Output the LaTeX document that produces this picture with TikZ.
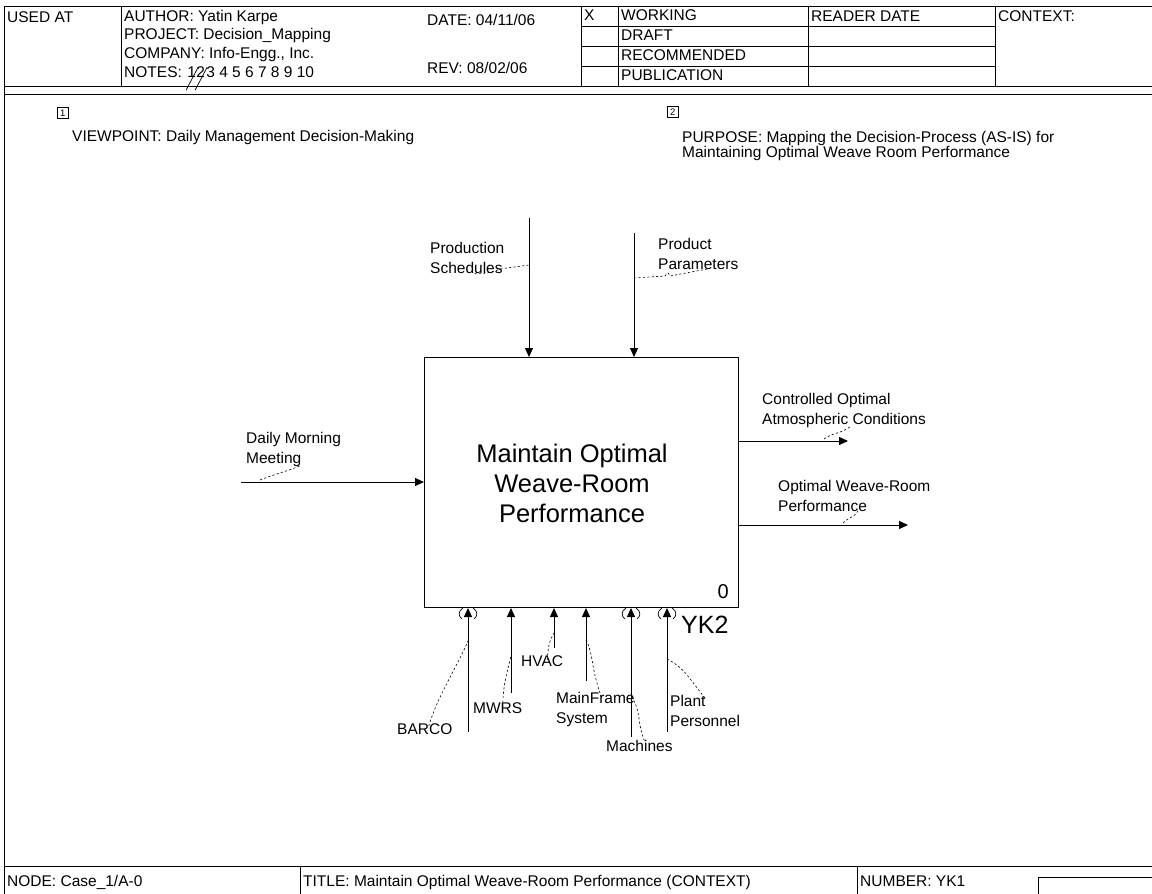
\documentclass[tikz,border=0pt]{standalone}
\usepackage{fontspec}
\setmainfont{Liberation Sans}
\usetikzlibrary{arrows.meta,positioning}

\tikzset{
  lbl/.style={font=\fontsize{15.5}{20}\selectfont, inner sep=0pt, anchor=north west, align=left},
  hdr/.style={font=\fontsize{15.5}{19}\selectfont, inner sep=0pt, anchor=base west},
  flow/.style={line width=1pt, -{Triangle[length=9pt,width=8pt]}},
  squig/.style={line width=0.6pt, dash pattern=on 2.2pt off 2.2pt},
  frame/.style={line width=0.9pt},
  numbox/.style={draw, line width=0.7pt, minimum size=11pt, inner sep=0pt, anchor=north west, font=\fontsize{9.5}{9.5}\selectfont},
}

\begin{document}
\begin{tikzpicture}[x=1pt,y=-1pt]
    \useasboundingbox (0,0) rectangle (1152,894);

    % Form frame
    \draw[frame] (1152,6.5) -- (4.5,6.5) -- (4.5,894);
    \draw[frame] (4.5,86) -- (1152,86);
    \draw[frame] (4.5,94) -- (1152,94);
    \draw[frame] (4.5,866) -- (1152,866);
    \foreach \x in {121.5,581,618,808,995} \draw[frame] (\x,6.5) -- (\x,86);
    \foreach \y in {26,46,66} \draw[frame] (581,\y) -- (995,\y);
    \draw[frame] (300,866) -- (300,894);
    \draw[frame] (857,866) -- (857,894);
    \draw[frame] (1152,877) -- (1038,877) -- (1038,894);

    % Header
    \node[hdr] (usedat) at (7,23) {USED AT};
    \node[hdr] (author) at (124,21) {AUTHOR: Yatin Karpe};
    \node[hdr] (project) at (124,39.5) {PROJECT: Decision\_Mapping};
    \node[hdr] (company) at (124,58) {COMPANY: Info-Engg., Inc.};
    \node[hdr] (notes) at (124,77) {NOTES:};
    \node[hdr] (note1) at ([xshift=5pt]notes.base east) {1};
    \node[hdr] (note2) at (note1.base east) {2};
    \node[hdr] (note3) at ([xshift=1pt]note2.base east) {3 4 5 6 7 8 9 10};
    \draw[line width=0.7pt] (note1.south west) ++(-1,13) -- ++(12,-23);
    \draw[line width=0.7pt] (note2.south west) ++(-1,13) -- ++(12,-23);
    \node[hdr] (date) at (427,25) {DATE: 04/11/06};
    \node[hdr] (rev) at (427,73) {REV: 08/02/06};
    \node[hdr] (xmark) at (584,20) {X};
    \foreach \s [count=\i] in {WORKING,DRAFT,RECOMMENDED,PUBLICATION}
        \node[hdr] (status\i) at (621,{20*\i}) {\s};
    \node[hdr] (reader) at (811,21) {READER DATE};
    \node[hdr] (context) at (998,21) {CONTEXT:};

    % Viewpoint and purpose
    \node[numbox] (num1) at (57,107) {1};
    \node[hdr] (viewpoint) at (72,141.5) {VIEWPOINT: Daily Management Decision-Making};
    \node[numbox] (num2) at (667,106) {2};
    \node[lbl, font=\fontsize{15.5}{13.5}\selectfont] (purpose) at (682,131) {PURPOSE: Mapping the Decision-Process (AS-IS) for\\Maintaining Optimal Weave Room Performance};

    % Activity box
    \node[draw, line width=1pt, minimum width=314pt, minimum height=250pt, inner sep=0pt, anchor=north west] (A0) at (424,357) {};
    \node[font=\fontsize{25.5}{30}\selectfont, align=center] (A0title) at (572,483) {Maintain Optimal\\Weave-Room\\Performance};
    \node[font=\fontsize{20}{20}\selectfont, anchor=base east, inner sep=0pt] (A0num) at (729,598) {0};
    \node[font=\fontsize{25}{25}\selectfont, anchor=base west, inner sep=0pt] (A0node) at (681,633) {YK2};

    % Controls
    \coordinate (ctlprod) at (529,218);
    \coordinate (ctlparam) at (634,233);
    \draw[flow] (ctlprod) -- (ctlprod |- A0.north);
    \draw[flow] (ctlparam) -- (ctlparam |- A0.north);
    \node[lbl] (lblprod) at (430,242) {Production\\Schedules};
    \node[lbl] (lblparam) at (658,238) {Product\\Parameters};
    \coordinate (sqprod) at (529,265);
    \coordinate (sqparam) at (634,278);
    \draw[squig] ([xshift=-30pt]lblprod.south east) .. controls (494,274) and (498,268) .. (507,268) -- (sqprod);
    \draw[squig] (sqparam) -- (665,276) .. controls (668,272) .. (670,276) -- ([xshift=-30pt,yshift=1pt]lblparam.south east);

    % Input
    \coordinate (inmeet) at (241,482);
    \draw[flow] (inmeet) -- (inmeet -| A0.west);
    \node[lbl] (lblmeet) at (246,432) {Daily Morning\\Meeting};
    \coordinate (sqmeet) at (260,480);
    \draw[squig] (sqmeet) .. controls (275,474) and (285,472) .. ([xshift=54pt,yshift=1pt]lblmeet.south west);

    % Outputs
    \coordinate (outatmo) at (848,441);
    \coordinate (outperf) at (908,525);
    \draw[flow] (outatmo -| A0.east) -- (outatmo);
    \draw[flow] (outperf -| A0.east) -- (outperf);
    \node[lbl] (lblatmo) at (762,393) {Controlled Optimal\\Atmospheric Conditions};
    \node[lbl] (lblperf) at (778,480) {Optimal Weave-Room\\Performance};
    \coordinate (sqatmo) at (824,439);
    \coordinate (sqperf) at (843,523);
    \draw[squig] (sqatmo) .. controls (834,432) and (840,434) .. ([xshift=88pt,yshift=1pt]lblatmo.south west);
    \draw[squig] (sqperf) .. controls (850,516) and (854,518) .. ([xshift=80pt,yshift=1pt]lblperf.south west);

    % Mechanisms
    \foreach \name/\x/\y in {barco/468/732, mwrs/511/693, hvac/554/648, mainframe/586/681, machines/631/737, plant/667/732}{
        \coordinate (\name) at (\x,\y);
        \draw[flow] (\name) -- (\name |- A0.south);
    }
    % Tunnelled arrows
    \foreach \x in {468,631,667}{
        \draw[line width=0.7pt] (\x-5,608) .. controls (\x-10,611) and (\x-10,616) .. (\x-6,619);
        \draw[line width=0.7pt] (\x+5,608) .. controls (\x+10,611) and (\x+10,616) .. (\x+6,619);
    }
    \node[lbl] (lblbarco) at (397,723) {BARCO};
    \node[lbl] (lblmwrs) at (473,702) {MWRS};
    \node[lbl] (lblhvac) at (521,655) {HVAC};
    \node[lbl] (lblmain) at (556,692) {MainFrame\\System};
    \node[lbl] (lblmach) at (606,740) {Machines};
    \node[lbl] (lblplant) at (670,695) {Plant\\Personnel};
    \coordinate (sqbarco) at (468,641);
    \coordinate (sqmwrs) at (511,655);
    \coordinate (sqhvac) at (554,633);
    \coordinate (sqmain) at (586,640);
    \coordinate (sqmach) at (631,697);
    \coordinate (sqplant) at (667,659);
    \draw[squig] ([xshift=4pt,yshift=-3pt]lblbarco.north) .. controls (438,695) and (458,665) .. (sqbarco);
    \draw[squig] ([xshift=5pt,yshift=-5pt]lblmwrs.north) .. controls (503,680) and (509,668) .. (sqmwrs);
    \draw[squig] ([xshift=5pt,yshift=-5pt]lblhvac.north) .. controls (549,642) .. (sqhvac);
    \draw[squig] (sqmain) .. controls (594,655) and (590,665) .. ([xshift=6pt,yshift=-5pt]lblmain.north);
    \draw[squig] (sqmach) .. controls (642,710) and (636,722) .. ([xshift=6pt,yshift=-3pt]lblmach.north);
    \draw[squig] (sqplant) .. controls (685,668) and (690,680) .. ([yshift=-3pt]lblplant.north);

    % Footer
    \node[hdr] (nodeid) at (7,886) {NODE: Case\_1/A-0};
    \node[hdr] (title) at (303,886) {TITLE: Maintain Optimal Weave-Room Performance (CONTEXT)};
    \node[hdr] (number) at (860,886) {NUMBER: YK1};
\end{tikzpicture}
\end{document}
